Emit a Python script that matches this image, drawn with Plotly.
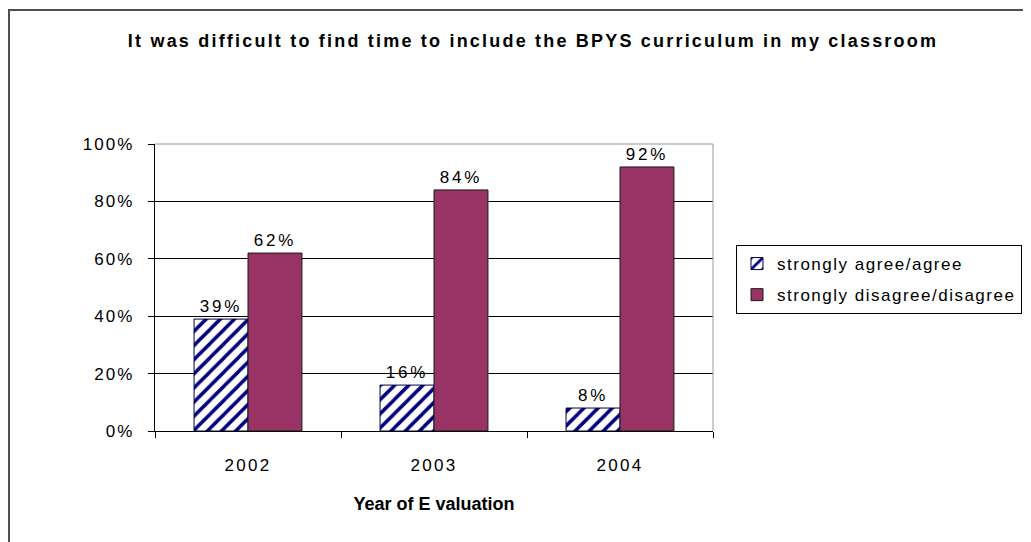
import plotly.graph_objects as go

years = ["2002", "2003", "2004"]
agree = [0.39, 0.16, 0.08]
disagree = [0.62, 0.84, 0.92]
series_names = ["strongly agree/agree", "strongly disagree/disagree"]
y_ticks = [0, 0.2, 0.4, 0.6, 0.8, 1.0]
y_tick_labels = ["0%", "20%", "40%", "60%", "80%", "100%"]
title_text = "It was difficult to find time to include the BPYS curriculum in my classroom"
x_title = "Year of E valuation"

# The page body has an 8px margin; lay the figure out in page pixels minus that offset.
O = 8
W, H = 1031 - O, 542 - O
L, R, T, B = 155 - O, W - (713 - O), 144 - O, H - (431 - O)
FONT = "Liberation Sans, Arial, sans-serif"


def sp(s, px):
    return f'<span style="letter-spacing:{px}px">{s}</span>'


fig = go.Figure()
fig.add_trace(go.Bar(
    x=years, y=agree, name=sp(series_names[0], 1.5), legendgroup="a",
    marker=dict(color="white", line=dict(color="#000040", width=1),
                pattern=dict(shape="/", fgcolor="#000080", bgcolor="white",
                             size=10, solidity=0.35, fillmode="replace")),
    texttemplate=sp("%{y:.0%}", 2.8), textposition="outside",
    textfont=dict(size=17, color="black", family=FONT),
    cliponaxis=False,
))
fig.add_trace(go.Bar(
    x=years, y=disagree, name=sp(series_names[1], 1.5), legendgroup="b",
    marker=dict(color="#993366", line=dict(color="#1a1a1a", width=1)),
    texttemplate=sp("%{y:.0%}", 2.8), textposition="outside",
    textfont=dict(size=17, color="black", family=FONT),
    cliponaxis=False,
))

pw = W - L - R
ph = H - T - B


def px_x(p):
    return (p - O - L) / pw


def px_y(p):
    return (H - B - (p - O)) / ph


shapes = [
    dict(type="rect", xref="paper", yref="paper",
         x0=px_x(9), x1=px_x(1050), y0=px_y(10), y1=px_y(570),
         line=dict(color="#505050", width=2), fillcolor="rgba(0,0,0,0)", layer="below"),
    dict(type="line", xref="paper", yref="paper", x0=0, x1=1, y0=1, y1=1,
         line=dict(color="#999999", width=1), layer="above"),
    dict(type="line", xref="paper", yref="paper", x0=1, x1=1, y0=0, y1=1,
         line=dict(color="#999999", width=1), layer="above"),
]

fig.update_layout(
    width=W, height=H,
    margin=dict(l=L, r=R, t=T, b=B, pad=0, autoexpand=False),
    paper_bgcolor="white", plot_bgcolor="white",
    font=dict(family=FONT, size=17, color="black"),
    barmode="group", bargap=0.42, bargroupgap=0,
    title=dict(text="<b>" + sp(title_text, 2.2) + "</b>",
               x=(533 - O) / W, xanchor="center", y=1 - (41 - O) / H, yanchor="middle",
               font=dict(size=18, family=FONT, color="black")),
    xaxis=dict(showline=True, linecolor="black", linewidth=1,
               ticks="outside", ticklen=6, tickcolor="black", tickson="boundaries",
               tickvals=years, ticktext=[sp(y, 2.3) for y in years],
               tickfont=dict(size=17), showgrid=False, ticklabelstandoff=19,
               title=dict(text="<b>" + x_title + "</b>", font=dict(size=18), standoff=22)),
    yaxis=dict(range=[0, 1], tickvals=y_ticks, ticktext=[sp(t, 2.1) for t in y_tick_labels],
               showline=True, linecolor="black", linewidth=1,
               ticks="outside", ticklen=6, tickcolor="black", ticklabelstandoff=10,
               showgrid=True, gridcolor="black", gridwidth=1,
               tickfont=dict(size=17), zeroline=False),
    legend=dict(x=px_x(736), y=px_y(245), xanchor="left", yanchor="top",
                bordercolor="black", borderwidth=1, bgcolor="white",
                font=dict(size=17), itemwidth=30, tracegroupgap=6),
    showlegend=True,
    shapes=shapes,
)

fig.write_html("out.html")
